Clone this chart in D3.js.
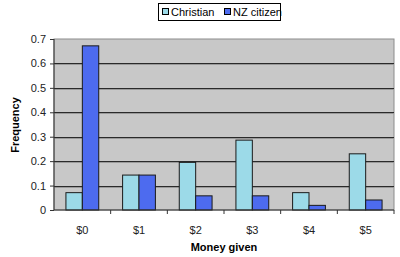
<!DOCTYPE html>
<html>
<head>
<meta charset="utf-8">
<script src="https://cdn.jsdelivr.net/npm/d3@7"></script>
<style>
  body { margin: 0; background: #fff; }
  text { font-family: Arial, "Liberation Sans", sans-serif; }
</style>
</head>
<body>
<svg id="chart" width="400" height="257"></svg>
<script>
// data
var categories = ["$0", "$1", "$2", "$3", "$4", "$5"];
var seriesNames = ["Christian", "NZ citizen"];
var christian = [0.071, 0.143, 0.195, 0.286, 0.071, 0.230];
var nzCitizen = [0.672, 0.143, 0.058, 0.058, 0.019, 0.041];
var yTicks = [0, 0.1, 0.2, 0.3, 0.4, 0.5, 0.6, 0.7];
var colors = ["#9cdae8", "#4d6bef"];

var svg = d3.select("#chart");

var margin = {top: 39, right: 6, bottom: 47, left: 54},
    width = 400 - margin.left - margin.right,
    height = 257 - margin.top - margin.bottom;

var g = svg.append("g")
    .attr("transform", "translate(" + margin.left + "," + margin.top + ")");

var x = d3.scaleBand().domain(categories).range([0, width]);
var x1 = d3.scaleBand().domain(seriesNames).range([0, 32.8]);
var y = d3.scaleLinear().domain([0, 0.7]).range([height, 0]);

// plot area
g.append("rect")
    .attr("width", width).attr("height", height)
    .attr("fill", "#c8c8c8")
    .attr("stroke", "#8c8c8c");

// gridlines
g.selectAll(".grid")
    .data(yTicks.slice(1, -1))
    .enter().append("line")
    .attr("x1", 0).attr("x2", width)
    .attr("y1", function(d) { return Math.round(y(d)) + 0.5; })
    .attr("y2", function(d) { return Math.round(y(d)) + 0.5; })
    .attr("stroke", "#2a2a2a");
g.selectAll(".grid2")
    .data(yTicks.slice(1, -1))
    .enter().append("line")
    .attr("x1", 0).attr("x2", width)
    .attr("y1", function(d) { return Math.round(y(d)) + 1.5; })
    .attr("y2", function(d) { return Math.round(y(d)) + 1.5; })
    .attr("stroke", "#9a9a9a");

var rows = categories.map(function(c, i) {
    return {cat: c, vals: [christian[i], nzCitizen[i]]};
});

// bars
var groups = g.selectAll(".grp")
    .data(rows)
    .enter().append("g")
    .attr("transform", function(d) {
        return "translate(" + (x(d.cat) + (x.bandwidth() - 32.8) / 2) + ",0)";
    });

groups.selectAll("rect")
    .data(function(d) { return d.vals.map(function(v, j) { return {name: seriesNames[j], v: v, j: j}; }); })
    .enter().append("rect")
    .attr("x", function(d) { return x1(d.name); })
    .attr("width", x1.bandwidth())
    .attr("y", function(d) { return y(d.v); })
    .attr("height", function(d) { return height - y(d.v); })
    .attr("fill", function(d) { return colors[d.j]; })
    .attr("stroke", "#1a1a1a")
    .attr("stroke-width", 1);

// y axis
var yAxis = g.append("g")
    .call(d3.axisLeft(y).tickValues(yTicks).tickSize(4).tickPadding(4)
        .tickFormat(function(d) { return d === 0 ? "0" : d3.format(".1f")(d); }));
yAxis.select(".domain").attr("stroke", "#333").attr("d", "M0,0V" + height);
yAxis.selectAll("line").attr("stroke", "#333");
yAxis.selectAll("text").attr("font-size", 11).attr("fill", "#222")
    .attr("font-family", "Arial, 'Liberation Sans', sans-serif");

// x axis
var xAxis = g.append("g")
    .attr("transform", "translate(0," + height + ")")
    .call(d3.axisBottom(x).tickSize(0).tickPadding(16));
xAxis.select(".domain").attr("stroke", "#333").attr("d", "M0,0H" + width);
xAxis.selectAll("text").attr("font-size", 11).attr("fill", "#222")
    .attr("font-family", "Arial, 'Liberation Sans', sans-serif");
xAxis.selectAll(".sep")
    .data(categories.slice(1))
    .enter().append("line")
    .attr("x1", function(d) { return x(d); })
    .attr("x2", function(d) { return x(d); })
    .attr("y1", 0).attr("y2", 4)
    .attr("stroke", "#333");
xAxis.append("line").attr("x1", width).attr("x2", width).attr("y1", 0).attr("y2", 4).attr("stroke", "#333");

// axis titles
svg.append("text")
    .attr("x", 224).attr("y", 251)
    .attr("text-anchor", "middle")
    .attr("font-size", 11).attr("font-weight", "bold")
    .text("Money given");

svg.append("text")
    .attr("transform", "translate(19,125) rotate(-90)")
    .attr("text-anchor", "middle")
    .attr("font-size", 11).attr("font-weight", "bold")
    .text("Frequency");

// legend
var legend = svg.append("g").attr("transform", "translate(158,3)");
legend.append("rect")
    .attr("x", 0.5).attr("y", 0.5)
    .attr("width", 122).attr("height", 17)
    .attr("fill", "#fff").attr("stroke", "#000");
var legX = [4, 66];
seriesNames.forEach(function(name, i) {
    legend.append("rect")
        .attr("x", legX[i] + 0.5).attr("y", 5.5)
        .attr("width", 6).attr("height", 6)
        .attr("fill", colors[i]).attr("stroke", "#000");
    legend.append("text")
        .attr("x", legX[i] + 9).attr("y", 13)
        .attr("font-size", 11)
        .text(name);
});
</script>
</body>
</html>
